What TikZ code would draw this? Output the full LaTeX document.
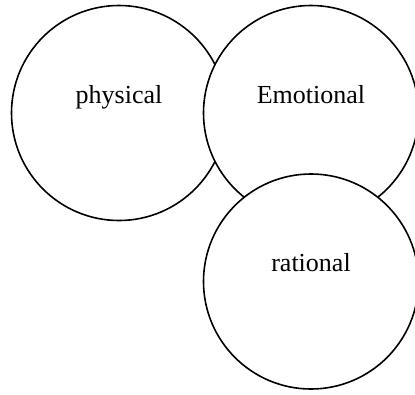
\documentclass[tikz,border=0pt]{standalone}
\usepackage{fontspec}
\setmainfont{Liberation Serif}
\usetikzlibrary{calc}
\tikzset{
  circ/.style={circle, draw=black, fill=white, line width=1.6pt, minimum size=215pt, inner sep=0pt},
  lbl/.style={font=\fontsize{26}{30}\selectfont, anchor=base, inner sep=0pt}
}
\begin{document}
\begin{tikzpicture}[x=1pt,y=-1pt]
\useasboundingbox (0,0) rectangle (415,394);
\node[circ] (phys) at (119,113) {};
\node[lbl] (physl) at ($(phys.center)+(0,-10)$) {physical};
\node[circ] (emo) at (311,113) {};
\node[lbl] (emol) at ($(emo.center)+(0,-10)$) {Emotional};
\node[circ] (rat) at (311,281.5) {};
\node[lbl] (ratl) at ($(rat.center)+(0,-10)$) {rational};
\end{tikzpicture}
\end{document}
